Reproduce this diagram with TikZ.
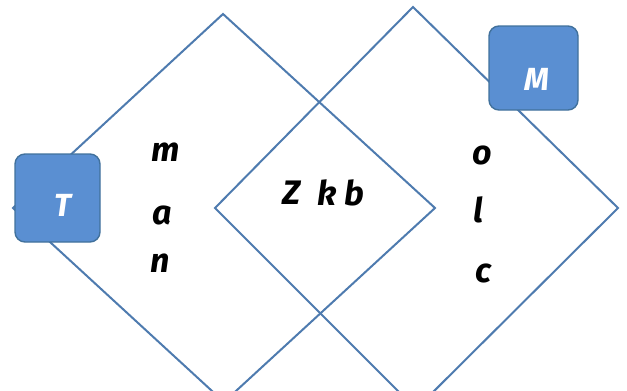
\documentclass[tikz,border=0pt]{standalone}
\usepackage{fontspec}
\setsansfont{Fira Sans}
\usepackage{tikz}
\usetikzlibrary{positioning}
\definecolor{edge}{HTML}{4E7BAF}
\definecolor{boxfill}{HTML}{5A8FD2}
\definecolor{boxline}{HTML}{41719C}

\begin{document}
\begin{tikzpicture}[x=1pt,y=-1pt,
  lbl/.style={font=\fontsize{34}{34}\selectfont\sffamily\bfseries\itshape},
  tag/.style={draw=boxline,line width=1.4pt,fill=boxfill,rounded corners=10pt},
  tagtext/.style={text=white,font=\fontsize{32}{32}\selectfont\sffamily\bfseries\itshape}]
\useasboundingbox (0,0) rectangle (627,391);
\clip (0,0) rectangle (627,391);
% left diamond
\coordinate (ltop) at (223,14);
\coordinate (lright) at (435,208);
\coordinate (lbot) at (224,402);
\coordinate (lleft) at (13,208);
\draw[edge,line width=2pt] (ltop) -- (lright) -- (lbot) -- (lleft) -- cycle;
% right diamond
\coordinate (rtop) at (413,7);
\coordinate (rright) at (618,208);
\coordinate (rbot) at (416,409);
\coordinate (rleft) at (215,208);
\draw[edge,line width=2pt] (rtop) -- (rright) -- (rbot) -- (rleft) -- cycle;
% tags
\node[tag,minimum width=85pt,minimum height=88pt] (tbox) at (57.5,198) {};
\node[tagtext] (tlet) at (63,205) {T};
\node[tag,minimum width=89pt,minimum height=84pt] (mbox) at (533.5,68) {};
\node[tagtext] (mlet) at (537,79) {M};
% letters
\node[lbl] (lm) at (166,152) {m};
\node[lbl] (la) at (162,215) {a};
\node[lbl] (ln) at (160,263) {n};
\node[lbl] (cz) at (292,193) {Z};
\node[lbl] (ck) at (327,193) {k};
\node[lbl] (cb) at (354,193) {b};
\node[lbl] (ro) at (482,155) {o};
\node[lbl] (rl) at (478,210) {l};
\node[lbl] (rc) at (483,273) {c};
\end{tikzpicture}
\end{document}
